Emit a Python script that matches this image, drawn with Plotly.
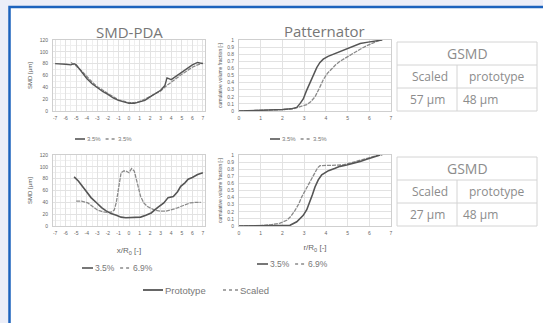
import plotly.graph_objects as go

W, H = 543, 323

# ---------------- data ----------------
smd_top_proto_x = [-7, -6.5, -6, -5.5, -5.2, -5, -4.5, -4, -3.5, -3, -2.5, -2, -1.5, -1, -0.5, 0, 0.5, 1, 1.5, 2, 2.5, 3, 3.4, 3.6, 4, 4.5, 5, 5.5, 6, 6.5, 7]
smd_top_proto_y = [80, 80, 79, 78, 80, 78, 66, 55, 46, 39, 33, 28, 22, 18, 15, 13, 13, 15, 18, 24, 29, 35, 43, 56, 53, 59, 66, 72, 78, 82, 80]
smd_top_scaled_x = [-5.5, -5, -4.5, -4, -3.5, -3, -2.5, -2, -1.5, -1, -0.5, 0, 0.5, 1, 1.5, 2, 2.5, 3, 3.5, 4, 4.5, 5, 5.5, 6, 6.5, 7]
smd_top_scaled_y = [82, 76, 68, 58, 49, 41, 35, 29, 24, 19, 16, 14, 14, 16, 20, 25, 30, 34, 42, 49, 56, 62, 68, 74, 78, 81]

smd_bot_a_x = [-5.2, -4.8, -4.2, -3.6, -3, -2.6, -2.2, -1.7, -1.2, -0.75, -0.3, 0.2, 0.7, 1.1, 1.6, 2.1, 2.7, 3.3, 3.7, 4.2, 4.6, 4.9, 5.3, 5.6, 6, 6.5, 7]
smd_bot_a_y = [83, 76, 62, 48, 38, 31, 26, 21, 18, 15, 14, 14, 14, 15, 18, 22, 31, 39, 48, 50, 58, 67, 73, 79, 82, 87, 90]
smd_bot_b_x = [-5, -4.5, -3.9, -3.5, -3, -2.5, -2, -1.6, -1.4, -1.2, -1.0, -0.75, -0.5, -0.3, 0, 0.25, 0.5, 0.8, 1.1, 1.4, 1.75, 2.4, 3, 3.5, 4, 4.5, 4.9, 5.4, 5.8, 6.3, 6.8]
smd_bot_b_y = [42, 42, 39, 34, 27, 24, 23, 24, 27, 40, 62, 90, 93, 93, 90, 97, 93, 73, 50, 39, 33, 27, 25, 25, 27, 30, 33, 36, 39, 40, 40]

pat_top_a_x = [0, 1, 2, 2.4, 2.66, 2.8, 2.96, 3.1, 3.27, 3.42, 3.58, 3.72, 3.88, 4.1, 4.35, 4.65, 4.96, 5.27, 5.58, 5.95, 6.35, 6.6]
pat_top_a_y = [0, 0.005, 0.02, 0.03, 0.05, 0.1, 0.17, 0.28, 0.4, 0.51, 0.61, 0.68, 0.73, 0.77, 0.8, 0.84, 0.88, 0.92, 0.95, 0.97, 0.99, 1.0]
pat_top_b_x = [0, 1, 2, 2.5, 2.81, 3.12, 3.3, 3.5, 3.7, 3.88, 4.07, 4.27, 4.45, 4.65, 4.96, 5.27, 5.58, 5.88, 6.2, 6.5]
pat_top_b_y = [0, 0.005, 0.02, 0.03, 0.06, 0.09, 0.13, 0.2, 0.32, 0.44, 0.53, 0.6, 0.65, 0.7, 0.76, 0.82, 0.87, 0.92, 0.96, 1.0]

pat_bot_a_x = [0, 1, 2, 2.35, 2.66, 2.96, 3.12, 3.27, 3.38, 3.5, 3.65, 3.81, 4.12, 4.4, 4.65, 4.96, 5.27, 5.58, 5.88, 6.2, 6.5]
pat_bot_a_y = [0, 0.003, 0.006, 0.01, 0.06, 0.15, 0.23, 0.34, 0.44, 0.55, 0.65, 0.72, 0.78, 0.81, 0.84, 0.86, 0.88, 0.91, 0.94, 0.97, 1.0]
pat_bot_b_x = [0, 1, 1.5, 1.89, 2.2, 2.4, 2.58, 2.75, 2.89, 3.05, 3.19, 3.35, 3.5, 3.62, 3.73, 4.0, 4.35, 4.8, 5.27, 5.58, 5.88, 6.1, 6.35, 6.6]
pat_bot_b_y = [0, 0.005, 0.02, 0.04, 0.08, 0.14, 0.22, 0.31, 0.41, 0.5, 0.6, 0.69, 0.77, 0.82, 0.85, 0.85, 0.85, 0.86, 0.9, 0.93, 0.95, 0.97, 0.99, 1.0]

smd_ticks = list(range(-7, 8))
smd_yticks = [0, 20, 40, 60, 80, 100, 120]
pat_xticks = list(range(0, 8))
pat_yticks = [0, 0.1, 0.2, 0.3, 0.4, 0.5, 0.6, 0.7, 0.8, 0.9, 1]

smd_ytitle = "SMD [µm]"
pat_ytitle = "cumulative volume fraction [-]"
smd_xtitle = "x/R<sub>0</sub> [-]"
pat_xtitle = "r/R<sub>0</sub> [-]"

top_legend = ["3.5%", "3.5%"]
bot_legend = ["3.5%", "6.9%"]
main_legend = ["Prototype", "Scaled"]

table_top = ["GSMD", "Scaled", "prototype", "57 µm", "48 µm"]
table_bot = ["GSMD", "Scaled", "prototype", "27 µm", "48 µm"]

# ---------------- helpers ----------------
def px(x):
    return x / W

def py(y):
    return 1 - y / H

DARK = "#555555"
LIGHT = "#8a8a8a"
TXT = "#8c8c8c"
GRID = "#e2e2e2"

fig = go.Figure()

def add_line(x, y, ax, color, width, dash="solid"):
    fig.add_trace(go.Scatter(x=x, y=y, mode="lines", xaxis="x" + ax, yaxis="y" + ax,
                             line=dict(color=color, width=width, dash=dash),
                             showlegend=False, hoverinfo="skip"))

add_line(smd_top_scaled_x, smd_top_scaled_y, "", LIGHT, 1.3, "4px,1px")
add_line(smd_top_proto_x, smd_top_proto_y, "", DARK, 1.4)
add_line(pat_top_b_x, pat_top_b_y, "2", LIGHT, 1.3, "4px,1px")
add_line(pat_top_a_x, pat_top_a_y, "2", DARK, 1.5)
add_line(smd_bot_b_x, smd_bot_b_y, "3", LIGHT, 1.3, "4px,1px")
add_line(smd_bot_a_x, smd_bot_a_y, "3", DARK, 1.6)
add_line(pat_bot_b_x, pat_bot_b_y, "4", LIGHT, 1.3, "4px,1px")
add_line(pat_bot_a_x, pat_bot_a_y, "4", DARK, 1.6)

tickfont = dict(size=5, color="#666", family="Arial")

def xax(dom, rng, ticks, anchor, minor=None, title=None, standoff=10):
    d = dict(domain=dom, range=rng, tickvals=ticks, ticktext=[str(t) for t in ticks],
             showgrid=True, gridcolor=GRID, gridwidth=0.7, zeroline=False,
             showline=True, linecolor="#cfcfcf", linewidth=0.8, mirror=True,
             ticks="", tickfont=tickfont, anchor=anchor, fixedrange=True,
             ticklabelstandoff=2, automargin=False)
    if minor:
        d["minor"] = dict(dtick=minor, showgrid=True, gridcolor="#efefef", gridwidth=0.6)
    if title:
        d["title"] = dict(text=title, font=dict(size=8, color="#666", family="Arial"), standoff=standoff)
    return d

def yax(dom, rng, ticks, anchor, minor=None, title=None, tsize=6, standoff=5):
    d = dict(domain=dom, range=rng, tickvals=ticks, ticktext=[("%g" % t) for t in ticks],
             showgrid=True, gridcolor=GRID, gridwidth=0.7, zeroline=False,
             showline=True, linecolor="#cfcfcf", linewidth=0.8, mirror=True,
             ticks="", tickfont=tickfont, anchor=anchor, fixedrange=True,
             ticklabelstandoff=3, automargin=False)
    if minor:
        d["minor"] = dict(dtick=minor, showgrid=True, gridcolor="#efefef", gridwidth=0.6)
    if title:
        d["title"] = dict(text=title, font=dict(size=tsize, color="#555", family="Arial"), standoff=standoff)
    return d

smd_xd = [px(53), px(205)]
pat_xd = [px(239), px(391)]
top_yd = [py(111), py(40)]
bot_yd = [py(226), py(155)]

fig.update_layout(
    xaxis=xax(smd_xd, [-7.2, 7.2], smd_ticks, "y", 0.5),
    yaxis=yax(top_yd, [0, 120], smd_yticks, "x", 10, smd_ytitle, 6, 6),
    xaxis2=xax(pat_xd, [0, 7], pat_xticks, "y2"),
    yaxis2=yax(top_yd, [0, 1], pat_yticks, "x2", None, pat_ytitle, 5, 4),
    xaxis3=xax(smd_xd, [-7.2, 7.2], smd_ticks, "y3", 0.5, smd_xtitle, 12),
    yaxis3=yax(bot_yd, [0, 120], smd_yticks, "x3", 10, smd_ytitle, 6, 6),
    xaxis4=xax(pat_xd, [0, 7], pat_xticks, "y4", None, pat_xtitle, 9),
    yaxis4=yax(bot_yd, [0, 1], pat_yticks, "x4", None, pat_ytitle, 5, 4),
)

shapes = []
annos = []

# panel with blue border
shapes.append(dict(type="rect", xref="paper", yref="paper", x0=px(9.5), x1=px(560), y0=py(340), y1=py(7),
                   fillcolor="white", line=dict(color="#1d63bd", width=2.5), layer="below"))

def text(x, y, s, size, color=TXT, xanchor="center", angle=0, family="Open Sans"):
    annos.append(dict(x=px(x), y=py(y), xref="paper", yref="paper", text=s, showarrow=False,
                      xanchor=xanchor, yanchor="middle", textangle=angle,
                      font=dict(size=size, color=color, family=family)))

def seg(x0, x1, y, color, width, dash="solid"):
    shapes.append(dict(type="line", xref="paper", yref="paper", x0=px(x0), x1=px(x1), y0=py(y), y1=py(y),
                       line=dict(color=color, width=width, dash=dash)))

def vseg(x, y0, y1, color, width):
    shapes.append(dict(type="line", xref="paper", yref="paper", x0=px(x), x1=px(x), y0=py(y0), y1=py(y1),
                       line=dict(color=color, width=width)))

# titles
text(129, 32, "SMD-PDA", 15, "#777777")
text(324, 31, "Patternator", 15, "#777777")

# small legends
def mini_legend(x, y, labels, size, llen):
    seg(x, x + llen, y, DARK, 1.6)
    text(x + llen, y, labels[0], size, "#777", xanchor="left", family="Arial")
    x2 = x + llen + size * 2.6 + 5
    seg(x2, x2 + llen, y, LIGHT, 1.4, "dot")
    text(x2 + llen, y, labels[1], size, "#777", xanchor="left", family="Arial")

mini_legend(75, 139, top_legend, 6, 10)
mini_legend(270, 139, top_legend, 6, 10)
mini_legend(82, 268, bot_legend, 8.5, 11)
mini_legend(257, 264, bot_legend, 8.5, 11)

# main legend
seg(143, 163, 290, DARK, 1.8)
text(163, 290, main_legend[0], 9.5, "#777", xanchor="left", family="Arial")
seg(223, 238, 290, LIGHT, 1.6, "dot")
text(238, 290, main_legend[1], 9.5, "#777", xanchor="left", family="Arial")

# tables
def table(top, vals):
    L, R, C = 397, 537, 457
    rows = [top, top + 23, top + 46, top + 69]
    for r in rows:
        seg(L, R, r, "#d4d4d4", 1)
    vseg(L, rows[0], rows[-1], "#d4d4d4", 1)
    vseg(R, rows[0], rows[-1], "#d4d4d4", 1)
    vseg(C, rows[1], rows[-1], "#d4d4d4", 1)
    text((L + R) / 2, (rows[0] + rows[1]) / 2, vals[0], 14)
    text(430, (rows[1] + rows[2]) / 2, vals[1], 12)
    text(497, (rows[1] + rows[2]) / 2, vals[2], 12)
    text(408, (rows[2] + rows[3]) / 2, vals[3], 12, xanchor="left")
    text(461, (rows[2] + rows[3]) / 2, vals[4], 12, xanchor="left")

table(42, table_top)
table(157, table_bot)

fig.update_layout(
    width=W, height=H, margin=dict(l=0, r=0, t=0, b=0),
    paper_bgcolor="#eceef8", plot_bgcolor="white",
    shapes=shapes, annotations=annos, showlegend=False,
    font=dict(family="Open Sans"),
)

fig.write_html("out.html", config={"displayModeBar": False})
